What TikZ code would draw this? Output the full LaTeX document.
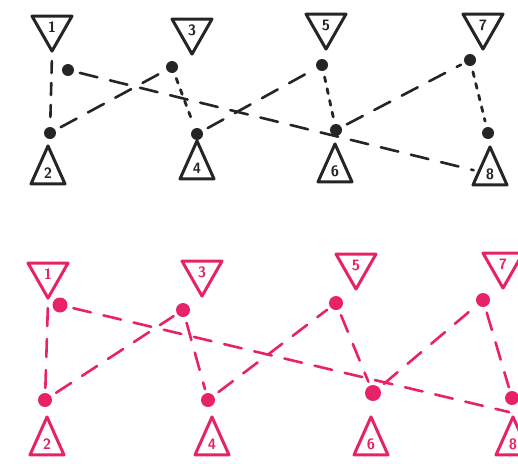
\documentclass[tikz,border=0pt]{standalone}
\usetikzlibrary{shapes.geometric}
\definecolor{ink}{RGB}{38,36,36}
\definecolor{pinkink}{RGB}{232,34,104}
\tikzset{
  tri down/.style={isosceles triangle, isosceles triangle stretches, shape border rotate=-90,
    minimum width=40, minimum height=35, inner sep=0pt, draw, line width=3pt,
    font=\sffamily\bfseries\fontsize{15}{15}\selectfont},
  tri up/.style={isosceles triangle, isosceles triangle stretches, shape border rotate=90,
    minimum width=34, minimum height=38, inner sep=0pt, draw, line width=3pt,
    font=\sffamily\bfseries\fontsize{15}{15}\selectfont},
  port/.style={circle, fill, inner sep=0pt, minimum size=#1},
  port/.default=12pt,
  link/.style={line width=2.6pt, dash pattern=on 18pt off 13pt, shorten <=6pt, shorten >=4pt},
  tie/.style={line width=2.8pt, dash pattern=on 5pt off 7pt, shorten <=6pt, shorten >=6pt}
}
\begin{document}
\begin{tikzpicture}[x=1pt, y=-1pt, line cap=round, line join=round]
  \useasboundingbox (0,0) rectangle (518,463);
  % obere Reihe (schwarz)
  \begin{scope}[color=ink]
    \node[tri down, anchor=apex] (a1) at (52,55) {1};
    \node[tri down, anchor=apex] (a3) at (192,58) {3};
    \node[tri down, anchor=apex] (a5) at (326,53) {5};
    \node[tri down, anchor=apex] (a7) at (483,53) {7};
    \node[tri up, anchor=apex] (a2) at (48,142) {2};
    \node[tri up, anchor=apex] (a4) at (197,137) {4};
    \node[tri up, anchor=apex] (a6) at (335,140) {6};
    \node[tri up, anchor=apex] (a8) at (490,143) {8};
    \node[port] (p1) at (68,70) {};
    \node[port] (p3) at (172,67) {};
    \node[port] (p5) at (322,65) {};
    \node[port] (p7) at (470,60) {};
    \node[port] (p2) at (50,133) {};
    \node[port] (p4) at (197,134) {};
    \node[port] (p6) at (336,130) {};
    \node[port] (p8) at (488,133) {};
    % senkrechte Verbindungen
    \draw[link, dash pattern=on 12pt off 10pt] (a1.apex) -- (p2);
    \draw[tie] (p3) -- (p4);
    \draw[tie] (p5) -- (p6);
    \draw[tie] (p7) -- (p8);
    % schraege Verbindungen
    \draw[link] (p1) -- (a8);
    \draw[link] (p2) -- (p3);
    \draw[link] (p4) -- (p5);
    \draw[link] (p6) -- (p7);
  \end{scope}
  % untere Reihe (pink)
  \begin{scope}[color=pinkink]
    \node[tri down, anchor=apex] (b1) at (48,302) {1};
    \node[tri down, anchor=apex] (b3) at (202,300) {3};
    \node[tri down, anchor=apex] (b5) at (356,293) {5};
    \node[tri down, anchor=apex] (b7) at (503,292) {7};
    \node[tri up, anchor=apex] (b2) at (47,413) {2};
    \node[tri up, anchor=apex] (b4) at (212,413) {4};
    \node[tri up, anchor=apex] (b6) at (371,413) {6};
    \node[tri up, anchor=apex] (b8) at (513,413) {8};
    \node[port=15pt] (q1) at (60,305) {};
    \node[port=14pt] (q3) at (183,310) {};
    \node[port=14pt] (q5) at (336,303) {};
    \node[port=14pt] (q7) at (483,300) {};
    \node[port=14pt] (q2) at (45,400) {};
    \node[port=14pt] (q4) at (208,400) {};
    \node[port=16pt] (q6) at (373,393) {};
    \node[port=14pt] (q8) at (512,398) {};
    % senkrechte Verbindungen
    \draw[link] (b1.apex) -- (q2);
    \draw[link] (q3) -- (q4);
    \draw[link] (q5) -- (q6);
    \draw[link] (q7) -- (q8);
    % schraege Verbindungen
    \draw[link] (q1) -- (b8.apex);
    \draw[link] (q2) -- (q3);
    \draw[link] (q4) -- (q5);
    \draw[link] (q6) -- (q7);
  \end{scope}
\end{tikzpicture}
\end{document}
